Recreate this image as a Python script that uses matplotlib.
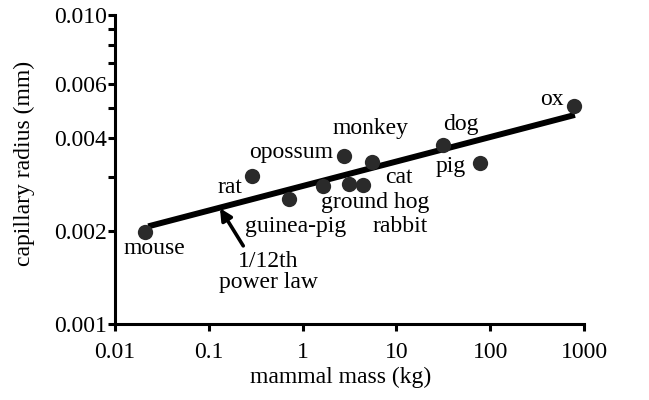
import matplotlib
matplotlib.use("Agg")
import matplotlib.pyplot as plt
from matplotlib.ticker import FixedLocator, FixedFormatter, NullLocator

# mammal data
names = ["mouse", "rat", "guinea-pig", "ground hog", "opossum", "rabbit",
         "cat", "monkey", "dog", "pig", "ox"]
mass_kg = [0.021, 0.29, 0.72, 1.64, 2.78, 3.15, 4.43, 5.5, 31.6, 78, 780]
radius_mm = [0.00198, 0.00302, 0.00253, 0.0028, 0.0035, 0.00283,
             0.00281, 0.00334, 0.0038, 0.00333, 0.00509]

# 1/12th power-law line, end points
fit_mass = [0.0226, 800]
fit_radius = [0.00207, 0.00475]

x_ticks = [0.01, 0.1, 1, 10, 100, 1000]
x_ticklabels = ["0.01", "0.1", "1", "10", "100", "1000"]
y_ticks = [0.001, 0.002, 0.003, 0.004, 0.005, 0.006, 0.007, 0.008, 0.009, 0.010]
y_ticklabels = ["0.001", "0.002", "", "0.004", "", "0.006", "", "", "", "0.010"]

# label offsets from each point, in pixels
label_offsets = [(9, -16), (-22, -12), (6, -27), (52, -17), (-53, 3), (51, -42),
                 (36, 8), (-2, 34), (18, 20), (-29, -4), (-22, 6)]

plt.rcParams["font.family"] = ["Liberation Serif", "DejaVu Serif"]
FS = 17

fig = plt.figure(figsize=(6.49, 4.0), dpi=100)
ax = fig.add_axes([115 / 649, 76 / 400, 469 / 649, 309 / 400])
ax.set_xscale("log")
ax.set_yscale("log")
ax.set_xlim(0.01, 1000)
ax.set_ylim(0.001, 0.010)

ax.plot(fit_mass, fit_radius, color="black", lw=4.3, solid_capstyle="butt", zorder=2)
ax.plot(mass_kg, radius_mm, "o", color="#2a2a2a", ms=11, mec="none", zorder=3)

for n, x, y, off in zip(names, mass_kg, radius_mm, label_offsets):
    ax.annotate(n, xy=(x, y), xytext=off, textcoords="offset pixels",
                ha="center", va="center", fontsize=FS)

head, tail = (0.1315, 0.00237), (0.233, 0.00179)
ax.annotate("", xy=head, xytext=tail,
            arrowprops=dict(arrowstyle="-|>,head_length=0.7,head_width=0.35",
                            color="black", lw=2.6, shrinkA=0, shrinkB=0))
ax.annotate("1/12th\npower law", xy=tail, xytext=(25, -26), textcoords="offset pixels",
            ha="center", va="center", fontsize=FS, linespacing=1.0)

for s in ["top", "right"]:
    ax.spines[s].set_visible(False)
for s in ["left", "bottom"]:
    ax.spines[s].set_linewidth(2.2)

ax.xaxis.set_major_locator(FixedLocator(x_ticks))
ax.xaxis.set_major_formatter(FixedFormatter(x_ticklabels))
ax.xaxis.set_minor_locator(NullLocator())
ax.yaxis.set_major_locator(FixedLocator(y_ticks))
ax.yaxis.set_major_formatter(FixedFormatter(y_ticklabels))
ax.yaxis.set_minor_locator(NullLocator())
ax.tick_params(axis="x", length=5, width=2.2, labelsize=FS, pad=8)
ax.tick_params(axis="y", length=5, width=2.2, labelsize=FS, pad=1)

ax.set_xlabel("mammal mass (kg)", fontsize=FS)
ax.set_ylabel("capillary radius (mm)", fontsize=FS)
ax.xaxis.set_label_coords(0.482, -0.14)
ax.yaxis.set_label_coords(-0.17, 0.52)

fig.savefig("out.png", dpi=100)
